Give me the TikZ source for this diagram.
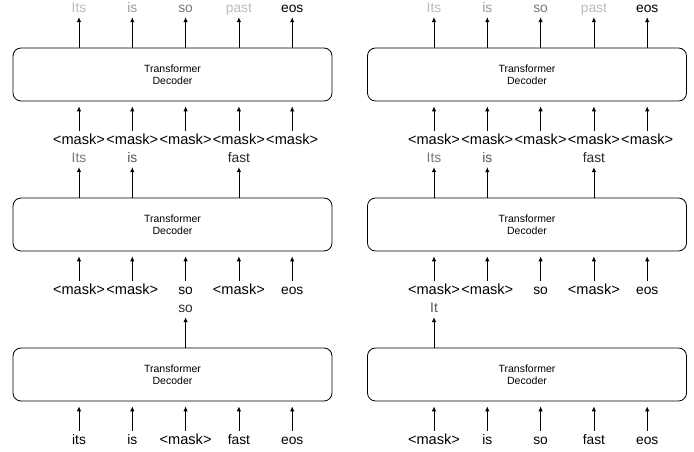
\documentclass[tikz,border=0pt]{standalone}
\usepackage{fontspec}
\setmainfont{Liberation Sans}
\usetikzlibrary{arrows.meta}
\definecolor{gA}{HTML}{BBBBBB}
\definecolor{gB}{HTML}{999999}
\definecolor{gC}{HTML}{777777}
\definecolor{gD}{HTML}{555555}
\definecolor{gE}{HTML}{2A2A2A}
\begin{document}
\begin{tikzpicture}[x=1pt,y=1pt,
  decbox/.style={draw=black,line width=0.8pt,rounded corners=8pt,minimum width=319pt,minimum height=53pt,inner sep=0pt,align=center,font=\fontsize{10.5}{12}\selectfont},
  tok/.style={inner sep=0pt,anchor=base,text depth=0pt,text height=11pt,font=\fontsize{13.8}{16}\selectfont},
  msk/.style={tok,font=\fontsize{14.6}{16}\selectfont},
  arr/.style={draw=black,line width=0.8pt,-{Latex[length=5pt,width=4.5pt]}},
  outarr/.style={arr,shorten >=4pt},
  inarr/.style={arr,shorten <=3pt,shorten >=5pt}]
\useasboundingbox (0,0) rectangle (694,452);
% column positions
\foreach \side/\x in {L/79,R/434}{
  \foreach \i in {1,...,5}{
    \coordinate (c\side\i) at ({\x+53.3*(\i-1)},0);
  }
}
% boxes
\node[decbox] (LT) at (172.5,377.5) {Transformer\\Decoder};
\node[decbox] (LM) at (172.5,227.5) {Transformer\\Decoder};
\node[decbox] (LB) at (172.5,77.5) {Transformer\\Decoder};
\node[decbox] (RT) at (527,377.5) {Transformer\\Decoder};
\node[decbox] (RM) at (527,227.5) {Transformer\\Decoder};
\node[decbox] (RB) at (527,77.5) {Transformer\\Decoder};

% ---------- top row (both panels) ----------
\foreach \s/\b in {L/LT,R/RT}{
  \node[tok,text=gA] (\s To1) at (c\s1 |- 0,439) {Its};
  \node[tok,text=gB] (\s To2) at (c\s2 |- 0,439) {is};
  \node[tok,text=gC] (\s To3) at (c\s3 |- 0,439) {so};
  \node[tok,text=gA] (\s To4) at (c\s4 |- 0,439) {past};
  \node[tok,text=black] (\s To5) at (c\s5 |- 0,439) {eos};
  \foreach \i in {1,...,5}{
    \draw[outarr] (\b.north -| \s To\i) -- (\s To\i.south);
  }
  \foreach \i in {1,...,5}{
    \node[msk] (\s Ti\i) at (c\s\i |- 0,307) {<mask>};
    \draw[inarr] (\s Ti\i.north) -- (\b.south -| \s Ti\i);
  }
}

% ---------- middle row (both panels) ----------
\foreach \s/\b in {L/LM,R/RM}{
  \node[tok,text=gC] (\s Mo1) at (c\s1 |- 0,289) {Its};
  \node[tok,text=gD] (\s Mo2) at (c\s2 |- 0,289) {is};
  \node[tok,text=gE] (\s Mo4) at (c\s4 |- 0,289) {fast};
  \foreach \i in {1,2,4}{
    \draw[outarr] (\b.north -| \s Mo\i) -- (\s Mo\i.south);
  }
  \node[msk] (\s Mi1) at (c\s1 |- 0,157) {<mask>};
  \node[msk] (\s Mi2) at (c\s2 |- 0,157) {<mask>};
  \node[tok] (\s Mi3) at (c\s3 |- 0,157) {so};
  \node[msk] (\s Mi4) at (c\s4 |- 0,157) {<mask>};
  \node[tok] (\s Mi5) at (c\s5 |- 0,157) {eos};
  \foreach \i in {1,...,5}{
    \draw[inarr] (\s Mi\i.north) -- (\b.south -| \s Mi\i);
  }
}

% ---------- bottom row left ----------
\node[tok,text=gE] (LBo3) at (cL3 |- 0,139) {so};
\draw[outarr] (LB.north -| LBo3) -- (LBo3.south);
\node[tok] (LBi1) at (cL1 |- 0,7) {its};
\node[tok] (LBi2) at (cL2 |- 0,7) {is};
\node[msk] (LBi3) at (cL3 |- 0,7) {<mask>};
\node[tok] (LBi4) at (cL4 |- 0,7) {fast};
\node[tok] (LBi5) at (cL5 |- 0,7) {eos};
\foreach \i in {1,...,5}{
  \draw[inarr] (LBi\i.north) -- (LB.south -| LBi\i);
}

% ---------- bottom row right ----------
\node[tok,text=gD] (RBo1) at (cR1 |- 0,139) {It};
\draw[outarr] (RB.north -| RBo1) -- (RBo1.south);
\node[msk] (RBi1) at (cR1 |- 0,7) {<mask>};
\node[tok] (RBi2) at (cR2 |- 0,7) {is};
\node[tok] (RBi3) at (cR3 |- 0,7) {so};
\node[tok] (RBi4) at (cR4 |- 0,7) {fast};
\node[tok] (RBi5) at (cR5 |- 0,7) {eos};
\foreach \i in {1,...,5}{
  \draw[inarr] (RBi\i.north) -- (RB.south -| RBi\i);
}
\end{tikzpicture}
\end{document}
